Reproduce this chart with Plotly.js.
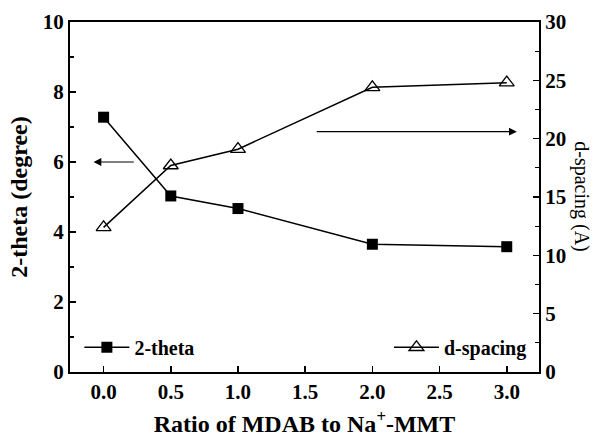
<!DOCTYPE html>
<html>
<head>
<meta charset="utf-8">
<script src="https://cdn.plot.ly/plotly-3.0.1.min.js"></script>
<style>html,body{margin:0;padding:0;background:#fff}#chart{width:613px;height:437px}</style>
</head>
<body>
<div id="chart"></div>
<script>
const ratio = [0.0, 0.5, 1.0, 2.0, 3.0];
const twoTheta = [7.28, 5.03, 4.67, 3.65, 3.58];
const dSpacing = [12.4, 17.7, 19.1, 24.4, 24.8];
const xTicks = [0, 0.5, 1.0, 1.5, 2.0, 2.5, 3.0];
const xTickText = ['0.0', '0.5', '1.0', '1.5', '2.0', '2.5', '3.0'];

const F = '"Liberation Serif", "Times New Roman", serif';
const tickF = {family: F, size: 21, color: '#000', weight: 'bold'};
const titleF = {family: F, size: 24, color: '#000', weight: 'bold'};
const rTitleF = {family: F, size: 20, color: '#000', weight: 'normal'};
const legF = {family: F, size: 20, color: '#000', weight: 'bold'};

const traces = [
  {x: ratio, y: twoTheta, name: '2-theta', type: 'scatter', mode: 'lines+markers',
   line: {color: '#000', width: 1.5},
   marker: {symbol: 'square', size: 11, color: '#000'}, legend: 'legend'},
  {x: ratio, y: dSpacing, name: 'd-spacing', type: 'scatter', mode: 'lines+markers', yaxis: 'y2',
   line: {color: '#000', width: 1.5},
   marker: {symbol: 'triangle-up-open', size: 13, color: '#000', line: {width: 1.3, color: '#000'}},
   legend: 'legend2'}
];

const layout = {
  width: 613, height: 437,
  margin: {l: 70, r: 74, t: 22, b: 65},
  paper_bgcolor: '#fff', plot_bgcolor: '#fff',
  font: tickF,
  xaxis: {
    range: [-0.25, 3.24], tickvals: xTicks, ticktext: xTickText,
    ticks: 'inside', ticklen: 6, tickwidth: 1.5, tickcolor: '#000',
    showline: true, linewidth: 2, linecolor: '#000', mirror: true,
    showgrid: false, zeroline: false, ticklabelstandoff: 0,
    tickfont: tickF,
    title: {text: 'Ratio of MDAB to Na<sup>+</sup>-MMT', font: titleF, standoff: 15}
  },
  yaxis: {
    range: [0, 10], tickvals: [0, 2, 4, 6, 8, 10],
    ticks: 'inside', ticklen: 6, tickwidth: 1.5, tickcolor: '#000',
    minor: {dtick: 1, ticks: 'inside', ticklen: 4, tickwidth: 1.3, tickcolor: '#000', showgrid: false},
    showline: true, linewidth: 2, linecolor: '#000',
    showgrid: false, zeroline: false,
    tickfont: tickF,
    title: {text: '2-theta (degree)', font: titleF, standoff: 8}
  },
  yaxis2: {
    range: [0, 30], tickvals: [0, 5, 10, 15, 20, 25, 30], overlaying: 'y', side: 'right',
    ticks: 'inside', ticklen: 6, tickwidth: 1.5, tickcolor: '#000',
    minor: {dtick: 2.5, ticks: 'inside', ticklen: 4, tickwidth: 1.3, tickcolor: '#000', showgrid: false},
    showline: true, linewidth: 2, linecolor: '#000',
    showgrid: false, zeroline: false,
    tickfont: tickF
  },
  legend: {x: 0.02, y: 0.015, xanchor: 'left', yanchor: 'bottom', bgcolor: 'rgba(0,0,0,0)',
    font: legF, itemwidth: 45},
  legend2: {x: 0.985, y: 0.015, xanchor: 'right', yanchor: 'bottom', bgcolor: 'rgba(0,0,0,0)',
    font: legF, itemwidth: 45},
  annotations: [
    {text: 'd-spacing (A)', xref: 'paper', yref: 'paper', x: 1.12, y: 0.5, showarrow: false,
     textangle: 90, font: rTitleF},
    {x: -0.075, y: 6, ax: 0.236, ay: 6, xref: 'x', yref: 'y', axref: 'x', ayref: 'y',
     text: '', showarrow: true, arrowhead: 2, arrowsize: 1.3, arrowwidth: 1.2, arrowcolor: '#000'},
    {x: 3.075, y: 20.6, ax: 1.575, ay: 20.6, xref: 'x', yref: 'y2', axref: 'x', ayref: 'y2',
     text: '', showarrow: true, arrowhead: 2, arrowsize: 1.3, arrowwidth: 1.2, arrowcolor: '#000'}
  ],
  showlegend: true
};

Plotly.newPlot('chart', traces, layout, {displayModeBar: false, staticPlot: true});
</script>
</body>
</html>
